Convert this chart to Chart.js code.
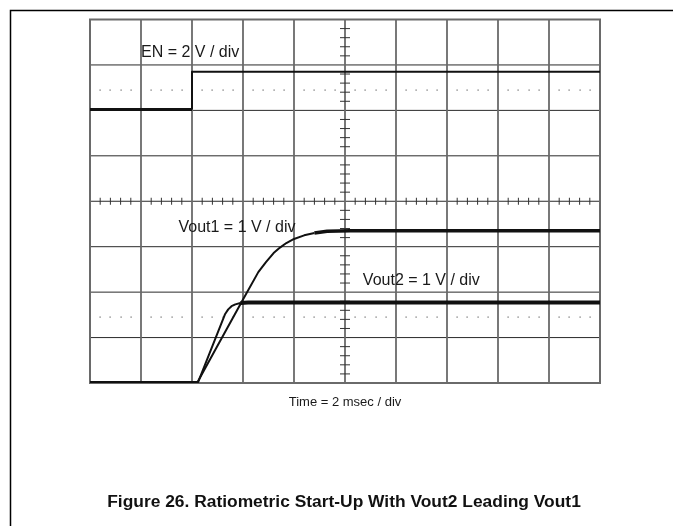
<!DOCTYPE html>
<html><head><meta charset="utf-8">
<script src="https://cdn.jsdelivr.net/npm/chart.js@4"></script>
<style>html,body{margin:0;padding:0;background:#fff;}canvas{display:block}</style>
</head><body>
<canvas id="c" width="673" height="526"></canvas>
<script>
// ---- data (time in ms, 2 ms/div; voltages in volts) ----
const xTicksMs = [0, 2, 4, 6, 8, 10, 12, 14, 16, 18, 20];
const yTicksDiv = [0, 1, 2, 3, 4, 5, 6, 7, 8];

const enTimeMs = [0, 4.0, 4.0, 20];
const enVolts  = [0, 0, 1.66, 1.66];

const vout1TimeMs = [0, 4.22, 5.0, 6.0, 6.6, 6.9, 7.2, 7.45, 7.7, 8.0, 8.4, 8.8, 9.3, 10.2, 20];
const vout1Volts  = [0, 0, 0.8, 1.82, 2.42, 2.64, 2.84, 2.96, 3.06, 3.15, 3.23, 3.28, 3.32, 3.33, 3.33];

const vout2TimeMs = [0, 4.24, 5.3, 5.42, 5.55, 5.7, 5.9, 6.2, 20];
const vout2Volts  = [0, 0, 1.5, 1.6, 1.67, 1.71, 1.74, 1.75, 1.75];

const channelNames = ["EN", "Vout1", "Vout2"];
const voltsPerDiv  = [2, 1, 1];
const groundDiv    = [6.02, 0.02, 0.02];
const channelLabels = ["EN = 2 V / div", "Vout1 = 1 V / div", "Vout2 = 1 V / div"];
const timeLabel = "Time = 2 msec / div";
const figureTitle = "Figure 26. Ratiometric Start-Up With Vout2 Leading Vout1";

function toPoints(ts, vs, ch) {
  return ts.map((t, i) => ({ x: t, y: groundDiv[ch] + vs[i] / voltsPerDiv[ch] }));
}

const scopePlugin = {
  id: 'scope',
  beforeDatasetsDraw(chart) {
    const { ctx, chartArea: a, scales: { x, y } } = chart;
    ctx.save();
    yTicksDiv.forEach(v => {
      const py = y.getPixelForValue(v);
      ctx.beginPath();
      ctx.strokeStyle = '#2a2a2a'; ctx.lineWidth = 1;
      ctx.moveTo(a.left, py); ctx.lineTo(a.right, py); ctx.stroke();
    });
    xTicksMs.forEach(t => {
      const px = x.getPixelForValue(t);
      ctx.beginPath();
      ctx.strokeStyle = '#6a6a6a'; ctx.lineWidth = 1.8;
      ctx.moveTo(px, a.top); ctx.lineTo(px, a.bottom); ctx.stroke();
    });
    ctx.strokeStyle = '#6a6a6a'; ctx.lineWidth = 2;
    ctx.strokeRect(a.left, a.top, a.right - a.left, a.bottom - a.top);
    ctx.strokeStyle = '#333'; ctx.lineWidth = 1;
    const cx = x.getPixelForValue(10), cy = y.getPixelForValue(4);
    for (let k = 0; k <= 40; k++) {
      if (k % 5 === 0) continue;
      const py = y.getPixelForValue(k * 0.2);
      ctx.beginPath(); ctx.moveTo(cx - 5, py); ctx.lineTo(cx + 5, py); ctx.stroke();
    }
    for (let k = 0; k <= 50; k++) {
      if (k % 5 === 0) continue;
      const px = x.getPixelForValue(k * 0.4);
      ctx.beginPath(); ctx.moveTo(px, cy - 3.5); ctx.lineTo(px, cy + 3.5); ctx.stroke();
    }
    ctx.fillStyle = '#666';
    [6.45, 1.45].forEach(v => {
      const py = y.getPixelForValue(v);
      for (let k = 0; k <= 50; k++) {
        if (k % 5 === 0) continue;
        const px = x.getPixelForValue(k * 0.4);
        ctx.fillRect(Math.round(px) - 0.5, Math.round(py) - 0.5, 1.2, 1.2);
      }
    });
    ctx.restore();
  },
  afterDraw(chart) {
    const { ctx, scales: { x, y } } = chart;
    ctx.save();
    ctx.fillStyle = '#1a1a1a';
    ctx.textBaseline = 'alphabetic';
    ctx.font = '16px "Liberation Sans", Arial, sans-serif';
    ctx.textAlign = 'left';
    ctx.fillText(channelLabels[0], x.getPixelForValue(2.0), y.getPixelForValue(7.17));
    ctx.fillText(channelLabels[1], x.getPixelForValue(3.47), y.getPixelForValue(3.33));
    ctx.fillText(channelLabels[2], x.getPixelForValue(10.7), y.getPixelForValue(2.16));
    ctx.font = '13px "Liberation Sans", Arial, sans-serif';
    ctx.textAlign = 'center';
    ctx.fillText(timeLabel, x.getPixelForValue(10), 406);
    ctx.font = 'bold 17.4px "Liberation Sans", Arial, sans-serif';
    ctx.fillStyle = '#111';
    ctx.fillText(figureTitle, 344, 507);
    ctx.strokeStyle = '#000'; ctx.lineWidth = 1.5;
    ctx.beginPath();
    ctx.moveTo(10.5, 526); ctx.lineTo(10.5, 10.5); ctx.lineTo(673, 10.5);
    ctx.stroke();
    ctx.restore();
  }
};

const widthBy = (lowW, highW, thr) => c => (c.p0.parsed.y >= thr && c.p1.parsed.y >= thr) ? highW : lowW;

new Chart(document.getElementById('c'), {
  type: 'line',
  data: {
    datasets: [
      { label: channelNames[0], data: toPoints(enTimeMs, enVolts, 0), borderColor: '#111', borderWidth: 2,
        segment: { borderWidth: c => (c.p0.parsed.y < 6.5 && c.p1.parsed.y < 6.5) ? 3 : 2 } },
      { label: channelNames[1], data: toPoints(vout1TimeMs, vout1Volts, 1), borderColor: '#111', borderWidth: 2,
        segment: { borderWidth: widthBy(2, 3.5, 3.3) } },
      { label: channelNames[2], data: toPoints(vout2TimeMs, vout2Volts, 2), borderColor: '#111', borderWidth: 2,
        segment: { borderWidth: widthBy(2, 4, 1.74) } }
    ]
  },
  options: {
    responsive: false,
    animation: false,
    devicePixelRatio: 1,
    layout: { padding: { left: 90, top: 19.5, right: 73, bottom: 143 } },
    elements: { point: { radius: 0 }, line: { tension: 0, borderJoinStyle: 'round' } },
    datasets: { line: { clip: 6, fill: false } },
    scales: {
      x: { type: 'linear', min: 0, max: 20, display: false },
      y: { type: 'linear', min: 0, max: 8, display: false }
    },
    plugins: { legend: { display: false }, tooltip: { enabled: false }, title: { display: false } }
  },
  plugins: [scopePlugin]
});
</script>
</body></html>
